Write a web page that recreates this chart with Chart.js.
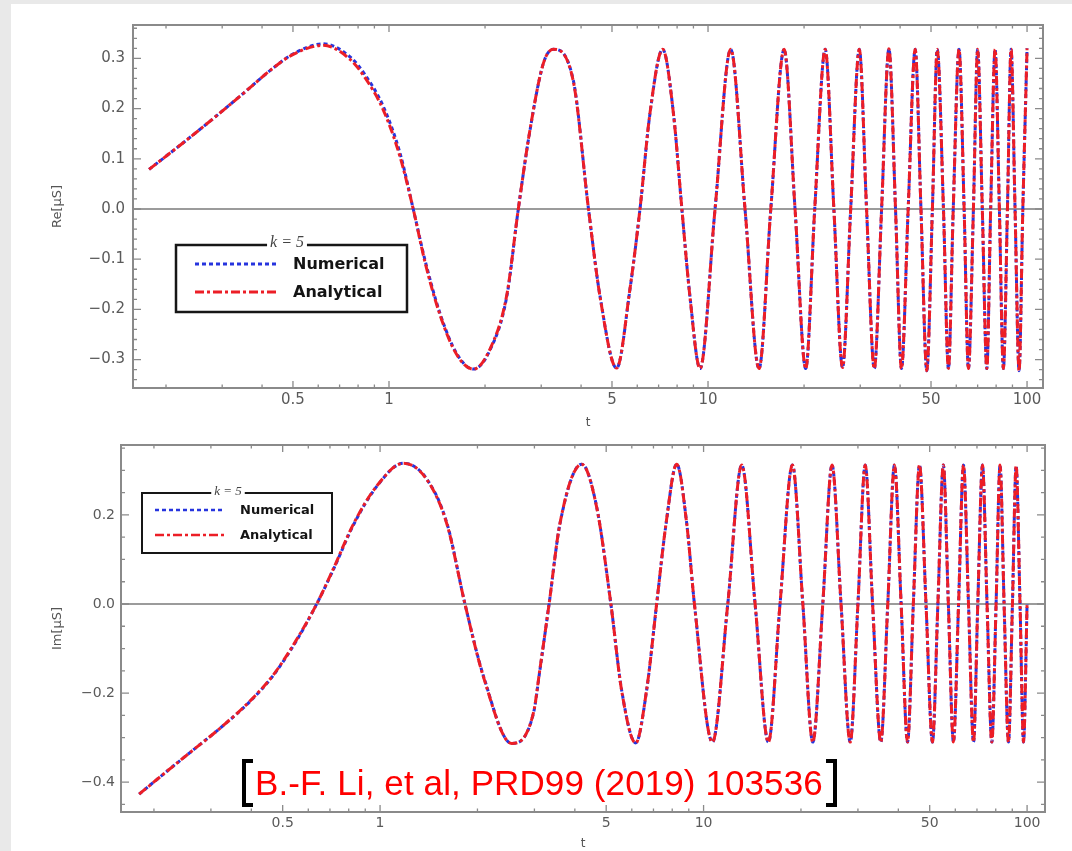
<!DOCTYPE html>
<html>
<head>
<meta charset="utf-8">
<script src="https://cdn.jsdelivr.net/npm/chart.js@4.4.1/dist/chart.umd.min.js"></script>
<style>
  html,body{margin:0;padding:0;}
  body{width:1072px;height:851px;background:#e9e9e9;position:relative;overflow:hidden;}
  #paper{position:absolute;left:11px;top:4px;right:0;bottom:0;background:#fff;}
  canvas{position:absolute;left:0;}
  #re{top:0;}
  #im{top:430px;}
  #cite{position:absolute;left:242px;top:759px;height:48px;display:flex;align-items:center;
        font-family:"Liberation Sans",Arial,sans-serif;font-size:35px;letter-spacing:0.1px;color:#ff0000;white-space:nowrap;}
  .br{width:7px;height:40px;border:4px solid #000;}
  .bl{border-right:none;margin-right:2px;}
  .brr{border-left:none;margin-left:3px;}
</style>
</head>
<body>
<div id="paper"></div>
<canvas id="re" width="1072" height="430"></canvas>
<canvas id="im" width="1072" height="421"></canvas>
<div id="cite"><span class="br bl"></span><span>B.-F. Li, et al, PRD99 (2019) 103536</span><span class="br brr"></span></div>

<script>
// ---- data ----
const legendTitle = 'k = 5'
const seriesNames = ['Numerical', 'Analytical']

// x ticks (log axis t)
const xTicks = [0.2,0.3,0.4,0.5,0.6,0.7,0.8,0.9,1,2,3,4,5,6,7,8,9,10,20,30,40,50,60,70,80,90,100]
const xMajor = [0.5,1,5,10,50,100]
const xMajorLabels = ['0.5','1','5','10','50','100']

// y tick labels
const reMajor = [-0.3,-0.2,-0.1,0,0.1,0.2,0.3]
const imMajor = [-0.4,-0.2,0,0.2]

// top panel: Re[mu_S]
const tRe = [0.177,0.2265,0.281,0.349,0.434,0.501,0.622,0.755,0.84,0.96,1.083,1.191,1.297,1.445,1.63,1.837,
  2.073,2.339,2.543,2.767,3.047,3.27,3.78,4.22,4.59,5.17,5.69,6.12,6.58,7.21,7.79,8.28,8.78,9.44,10.52,11.78,
  13.06,14.45,15.73,17.32,18.74,20.24,21.6,23.3,24.8,26.4,28.0,29.8,31.4,33.2,35.0,36.9,38.7,40.4,42.4,44.6,
  46.5,48.5,50.5,52.3,54.7,56.7,58.7,61.2,63.5,65.5,67.9,70.0,72.4,74.8,76.9,79.4,81.9,84.3,86.8,89.1,91.7,
  94.4,97.0,100]
const reNumerical = [0.079,0.132,0.180,0.230,0.281,0.309,0.329,0.303,0.268,0.204,0.111,0,-0.102,-0.208,-0.288,-0.319,
  -0.281,-0.175,0,0.157,0.290,0.318,0.257,0,-0.175,-0.317,-0.161,0,0.191,0.318,0.191,0,-0.175,-0.318,0,0.318,
  0,-0.318,0,0.318,0,-0.318,0,0.318,0,-0.316,0,0.318,0,-0.318,0,0.319,0,-0.318,0,0.318,
  0,-0.322,0,0.318,0,-0.318,0,0.318,0,-0.318,0,0.318,0,-0.318,0,0.318,0,-0.318,0,0.318,0,
  -0.322,0,0.320]
const reAnalytical = [0.079,0.132,0.180,0.230,0.281,0.308,0.326,0.298,0.262,0.197,0.104,0,-0.106,-0.211,-0.290,-0.319,
  -0.279,-0.172,0,0.158,0.290,0.318,0.255,0,-0.176,-0.317,-0.160,0,0.192,0.318,0.190,0,-0.176,-0.318,0,0.318,
  0,-0.318,0,0.318,0,-0.318,0,0.318,0,-0.316,0,0.318,0,-0.318,0,0.319,0,-0.318,0,0.318,
  0,-0.322,0,0.318,0,-0.318,0,0.318,0,-0.318,0,0.318,0,-0.318,0,0.318,0,-0.318,0,0.318,0,
  -0.322,0,0.320]

// bottom panel: Im[mu_S]
const tIm = [0.180,0.219,0.259,0.320,0.396,0.468,0.552,0.637,0.718,0.828,0.977,1.18,1.39,1.61,1.83,2.09,2.55,2.98,
  3.12,3.33,3.60,4.20,4.67,5.17,5.58,6.17,6.67,7.16,7.66,8.26,8.87,9.37,10.65,11.88,13.12,14.43,15.86,17.23,
  18.82,20.27,21.76,23.36,24.95,26.6,28.4,30.0,31.6,33.3,35.3,37.1,38.9,40.8,42.7,44.5,46.5,48.7,51.0,53.0,
  55.1,57.1,59.2,61.4,63.6,65.9,68.3,70.4,72.8,75.2,77.8,80.2,82.5,84.9,87.6,90.1,92.5,95.1,97.5,100]
const imNumerical = [-0.427,-0.376,-0.333,-0.279,-0.219,-0.160,-0.082,0,0.078,0.178,0.264,0.316,0.282,0.181,0,-0.163,
  -0.313,-0.245,-0.148,0,0.181,0.314,0.219,0,-0.193,-0.312,-0.193,0,0.181,0.314,0.181,0,-0.310,0,0.312,0,
  -0.310,0,0.312,0,-0.310,0,0.312,0,-0.310,0,0.312,0,-0.310,0,0.312,0,-0.310,0,0.312,0,-0.310,0,0.312,0,
  -0.310,0,0.312,0,-0.310,0,0.312,0,-0.310,0,0.312,0,-0.310,0,0.310,0,-0.310,0]
const imAnalytical = [-0.427,-0.376,-0.333,-0.279,-0.218,-0.159,-0.080,0,0.080,0.180,0.265,0.316,0.281,0.179,0,-0.165,
  -0.313,-0.244,-0.146,0,0.182,0.314,0.218,0,-0.194,-0.312,-0.192,0,0.182,0.314,0.180,0,-0.310,0,0.312,0,
  -0.310,0,0.312,0,-0.310,0,0.312,0,-0.310,0,0.312,0,-0.310,0,0.312,0,-0.310,0,0.312,0,-0.310,0,0.312,0,
  -0.310,0,0.312,0,-0.310,0,0.312,0,-0.310,0,0.312,0,-0.310,0,0.310,0,-0.310,0]

const blue = 'rgb(38,52,222)'
const red = 'rgb(236,30,38)'

function pts(ts, vs){
  return ts.map((t,i)=>({x:t, y:vs[i]}))
}

function stepTicks(from, to, step){
  let arr = []
  for (let i = from; i <= to; i++) arr.push(+(i*step).toFixed(3))
  return arr
}

function fmt(v){
  return v.toFixed(1).replace('-', '\u2212')
}

// frame, inward ticks, zero line and the titled legend box
const framePlugin = {
  id: 'frame',
  beforeDatasetsDraw(chart){
    const {ctx, chartArea:a, scales:{y}} = chart
    const y0 = y.getPixelForValue(0)
    ctx.save()
    ctx.strokeStyle = '#7a7a7a'
    ctx.lineWidth = 1.4
    ctx.beginPath(); ctx.moveTo(a.left, y0); ctx.lineTo(a.right, y0); ctx.stroke()
    ctx.restore()
  },
  afterDatasetsDraw(chart, args, opts){
    const {ctx, chartArea:a, scales:{x, y}} = chart
    ctx.save()
    ctx.strokeStyle = '#8a8a8a'
    ctx.lineWidth = 1.3
    x.ticks.forEach(tk => {
      const px = x.getPixelForValue(tk.value)
      const len = tk.label ? 7 : 3.5
      ctx.beginPath()
      ctx.moveTo(px, a.bottom); ctx.lineTo(px, a.bottom - len)
      ctx.moveTo(px, a.top); ctx.lineTo(px, a.top + len)
      ctx.stroke()
    })
    y.ticks.forEach(tk => {
      const py = y.getPixelForValue(tk.value)
      const len = tk.label ? 8 : 4
      ctx.beginPath()
      ctx.moveTo(a.left, py); ctx.lineTo(a.left + len, py)
      ctx.moveTo(a.right, py); ctx.lineTo(a.right - len, py)
      ctx.stroke()
    })
    ctx.lineWidth = 2
    ctx.strokeRect(a.left, a.top, a.right - a.left, a.bottom - a.top)

    const L = opts.box
    ctx.fillStyle = '#fff'
    ctx.fillRect(L.x1, L.y1, L.x2 - L.x1, L.y2 - L.y1)
    ctx.font = L.titleFont
    const tw = ctx.measureText(legendTitle).width
    const g0 = L.cx - tw/2 - 3, g1 = L.cx + tw/2 + 3
    ctx.strokeStyle = '#161616'
    ctx.lineWidth = L.border
    ctx.beginPath()
    ctx.moveTo(g1, L.y1); ctx.lineTo(L.x2, L.y1); ctx.lineTo(L.x2, L.y2)
    ctx.lineTo(L.x1, L.y2); ctx.lineTo(L.x1, L.y1); ctx.lineTo(g0, L.y1)
    ctx.stroke()
    ctx.fillStyle = '#444'
    ctx.textAlign = 'center'
    ctx.textBaseline = 'alphabetic'
    ctx.fillText(legendTitle, L.cx, L.y1 + 2)

    chart.data.datasets.forEach((ds, i) => {
      const ry = L.rows[i]
      ctx.setLineDash(ds.borderDash)
      ctx.strokeStyle = ds.borderColor
      ctx.lineWidth = L.lw
      ctx.beginPath(); ctx.moveTo(L.sx[0], ry); ctx.lineTo(L.sx[1], ry); ctx.stroke()
      ctx.setLineDash([])
      ctx.font = L.font
      ctx.fillStyle = '#141414'
      ctx.textAlign = 'left'
      ctx.textBaseline = 'middle'
      ctx.fillText(ds.label, L.tx, ry + 1)
    })
    ctx.restore()
  }
}

function grafico(id, c){
  return new Chart(document.getElementById(id), {
    type: 'line',
    data: {
      datasets: [
        { label: seriesNames[0], data: pts(c.t, c.num), borderColor: blue, borderDash: [4,3], order: 1 },
        { label: seriesNames[1], data: pts(c.t, c.ana), borderColor: red, borderDash: [9,3,3,3], order: 0 }
      ]
    },
    options: {
      responsive: false,
      animation: false,
      devicePixelRatio: 1,
      events: [],
      layout: { padding: { top: c.padTop, right: c.padRight, left: 0, bottom: 0 } },
      elements: {
        point: { radius: 0 },
        line: { borderWidth: c.lw, cubicInterpolationMode: 'monotone', fill: false }
      },
      plugins: {
        legend: { display: false },
        tooltip: { enabled: false },
        frame: { box: c.box }
      },
      scales: {
        x: {
          type: 'logarithmic',
          min: c.xMin, max: c.xMax,
          afterBuildTicks: s => { s.ticks = xTicks.map(v => ({value: v})) },
          afterFit: s => { s.height = c.xH },
          grid: { display: false, drawTicks: false },
          border: { display: false },
          ticks: {
            autoSkip: false, maxRotation: 0, padding: c.xPad,
            color: '#5a5a5a', font: { family: 'DejaVu Sans', size: c.tickSize },
            callback: v => { const k = xMajor.indexOf(v); return k >= 0 ? xMajorLabels[k] : '' }
          },
          title: { display: true, text: 't', color: '#555', padding: 0, font: { family: 'DejaVu Sans', size: 12 } }
        },
        y: {
          type: 'linear',
          min: c.yMin, max: c.yMax,
          afterBuildTicks: s => { s.ticks = c.yTicks.map(v => ({value: v})) },
          afterFit: s => { s.width = c.yW },
          grid: { display: false, drawTicks: false },
          border: { display: false },
          ticks: {
            autoSkip: false, padding: c.yPad,
            color: '#5a5a5a', font: { family: 'DejaVu Sans', size: c.tickSize },
            callback: v => c.yMajor.some(m => Math.abs(m - v) < 1e-6) ? fmt(v) : ''
          },
          title: { display: true, text: c.yTitle, color: '#555', padding: { top: 50, bottom: 0 },
                   font: { family: 'DejaVu Sans', size: 13 } }
        }
      }
    },
    plugins: [framePlugin]
  })
}

grafico('re', {
  t: tRe, num: reNumerical, ana: reAnalytical,
  padTop: 25, padRight: 29, yW: 133, xH: 42, xPad: 3, yPad: 8, tickSize: 15, lw: 3,
  xMin: 0.1576, xMax: 112.2, yMin: -0.3566, yMax: 0.3665,
  yTicks: stepTicks(-17, 18, 0.02), yMajor: reMajor, yTitle: 'Re[\u03bcS]',
  box: { x1: 176, y1: 245, x2: 407, y2: 312, cx: 287, rows: [264, 292], sx: [195, 277], tx: 293,
         font: 'bold 16px "DejaVu Sans"', titleFont: 'italic 16px "Liberation Serif"', lw: 3, border: 2.5 }
})

grafico('im', {
  t: tIm, num: imNumerical, ana: imAnalytical,
  padTop: 15, padRight: 27, yW: 121, xH: 39, xPad: 3, yPad: 6, tickSize: 14, lw: 3,
  xMin: 0.1582, xMax: 113.6, yMin: -0.467, yMax: 0.357,
  yTicks: stepTicks(-9, 7, 0.05), yMajor: imMajor, yTitle: 'Im[\u03bcS]',
  box: { x1: 142, y1: 63, x2: 332, y2: 123, cx: 228, rows: [80, 105], sx: [155, 225], tx: 240,
         font: 'bold 13px "DejaVu Sans"', titleFont: 'italic 13px "Liberation Serif"', lw: 2.5, border: 2 }
})
</script>
</body>
</html>
